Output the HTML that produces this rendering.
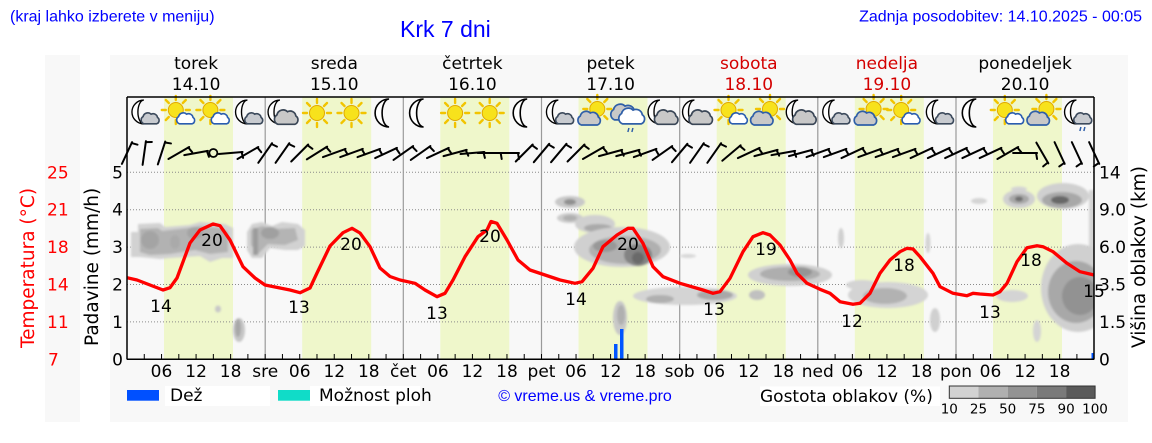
<!DOCTYPE html>
<html><head><meta charset="utf-8"><style>
html,body{margin:0;padding:0;background:#fff;overflow:hidden;width:1152px;height:443px;}
svg{display:block;}
.d{font-family:"DejaVu Sans","Liberation Sans",sans-serif;}
.l{font-family:"Liberation Sans",Arial,sans-serif;}
</style></head><body>
<svg width="1152" height="443" viewBox="0 0 1152 443" xmlns="http://www.w3.org/2000/svg">
<defs>
<clipPath id="pc"><rect x="127" y="97" width="967" height="262"/></clipPath>
<filter id="sf" x="-10%" y="-10%" width="120%" height="120%"><feGaussianBlur stdDeviation="1"/></filter>
<path id="cl" d="M-8,6 A5,5 0 0,1 -9,-3 A6,6 0 0,1 1,-6 A5.5,5.5 0 0,1 9,-2 A4.5,4.5 0 0,1 8,6 Z"/>
<path id="mo" d="M3,-14 A14,14 0 0,0 3,14 A7,14 0 0,1 3,-14 Z" fill="#fff" stroke="#000" stroke-width="1.6"/>
<g id="sun">
<g stroke="#f2c400" stroke-width="2.4" stroke-linecap="round">
<line x1="0" y1="-10" x2="0" y2="-14"/><line x1="0" y1="10" x2="0" y2="14"/>
<line x1="-10" y1="0" x2="-14" y2="0"/><line x1="10" y1="0" x2="14" y2="0"/>
<line x1="7" y1="7" x2="10" y2="10"/><line x1="-7" y1="7" x2="-10" y2="10"/>
<line x1="7" y1="-7" x2="10" y2="-10"/><line x1="-7" y1="-7" x2="-10" y2="-10"/>
</g>
<circle r="7.5" fill="#f7e21c" stroke="#e0a800" stroke-width="1"/>
</g>
<g id="mcs"><use href="#mo" transform="translate(-3,-1) scale(0.85)"/><use href="#cl" transform="translate(6,6) scale(0.8)" fill="#c8cbd0" stroke="#3c4a5c" stroke-width="2"/></g>
<g id="mcb"><use href="#mo" transform="translate(-5,-1) scale(0.85)"/><use href="#cl" transform="translate(4,5) scale(1.05)" fill="#c8c8c8" stroke="#3a4656" stroke-width="1.6"/></g>
<g id="scw"><use href="#sun" transform="translate(-3,-3) scale(1.0)"/><use href="#cl" transform="translate(7,6) scale(0.8)" fill="#fff" stroke="#2a5db0" stroke-width="2"/></g>
<g id="csn"><use href="#sun" transform="translate(4,-4) scale(1.0)"/><use href="#cl" transform="translate(-4,6) scale(1.0)" fill="#c8c8c8" stroke="#2f5fa8" stroke-width="1.7"/></g>
<g id="rc"><use href="#cl" transform="translate(-4,0) scale(1.15)" fill="#c8c8c8" stroke="#2f5fa8" stroke-width="1.5"/><use href="#cl" transform="translate(4,4) scale(1.15)" fill="#fff" stroke="#2f5fa8" stroke-width="1.5"/><g stroke="#2f5fa8" stroke-width="1.5"><line x1="1" y1="15" x2="0" y2="19"/><line x1="5" y1="15" x2="4" y2="19"/></g></g>
<g id="mcr"><use href="#mcs"/><g stroke="#2f5fa8" stroke-width="1.5"><line x1="4" y1="14" x2="3" y2="18"/><line x1="8" y1="14" x2="7" y2="18"/></g></g>
<g id="wb" stroke="#000" stroke-width="2" stroke-linecap="round"><line x1="-12" y1="0" x2="12" y2="0"/><line x1="11" y1="0" x2="12" y2="6"/></g>
</defs>

<!-- panels -->
<rect x="110" y="55" width="1018" height="367" fill="#f8f8f8"/>
<rect x="45" y="55" width="35" height="367" fill="#f8f8f8"/>

<!-- header -->
<text class="l" x="10" y="21.5" font-size="16" fill="#0000ff">(kraj lahko izberete v meniju)</text>
<text class="l" x="400" y="37" font-size="23" fill="#0000ff">Krk 7 dni</text>
<text class="l" x="1142" y="21.5" font-size="16" fill="#0000ff" text-anchor="end">Zadnja posodobitev: 14.10.2025 - 00:05</text>

<!-- day labels -->
<g class="d" font-size="17" text-anchor="middle">
<text x="196.1" y="69">torek</text><text x="196.1" y="90">14.10</text>
<text x="334.3" y="69">sreda</text><text x="334.3" y="90">15.10</text>
<text x="472.4" y="69">četrtek</text><text x="472.4" y="90">16.10</text>
<text x="610.6" y="69">petek</text><text x="610.6" y="90">17.10</text>
<text x="748.8" y="69" fill="#d40000">sobota</text><text x="748.8" y="90" fill="#d40000">18.10</text>
<text x="886.9" y="69" fill="#d40000">nedelja</text><text x="886.9" y="90" fill="#d40000">19.10</text>
<text x="1025.1" y="69">ponedeljek</text><text x="1025.1" y="90">20.10</text>
</g>

<!-- yellow day bands -->
<g fill="#eff7cb">
<rect x="164" y="97" width="69" height="262"/>
<rect x="302.2" y="97" width="69" height="262"/>
<rect x="440.3" y="97" width="69" height="262"/>
<rect x="578.5" y="97" width="69" height="262"/>
<rect x="716.7" y="97" width="69" height="262"/>
<rect x="854.8" y="97" width="69" height="262"/>
<rect x="993" y="97" width="69" height="262"/>
</g>

<!-- grid -->
<g stroke="#8a8a8a" stroke-width="1" stroke-dasharray="1 2">
<line x1="127" y1="172.3" x2="1094" y2="172.3"/>
<line x1="127" y1="209.7" x2="1094" y2="209.7"/>
<line x1="127" y1="247.1" x2="1094" y2="247.1"/>
<line x1="127" y1="284.5" x2="1094" y2="284.5"/>
<line x1="127" y1="321.9" x2="1094" y2="321.9"/>
</g>
<g stroke="#9a9a9a" stroke-width="1.2">
<line x1="265.2" y1="97" x2="265.2" y2="359"/>
<line x1="403.3" y1="97" x2="403.3" y2="359"/>
<line x1="541.5" y1="97" x2="541.5" y2="359"/>
<line x1="679.7" y1="97" x2="679.7" y2="359"/>
<line x1="817.8" y1="97" x2="817.8" y2="359"/>
<line x1="956" y1="97" x2="956" y2="359"/>
</g>

<!-- cloud density blobs -->
<g clip-path="url(#pc)">
<g filter="url(#sf)">
<path d="M131,232 L138,232 L138,224 L160,223 L165,227 L190,225 L200,222 L225,224 L233,228 L233,258 L222,258 L210,262 L200,256 L170,258 L160,259 L140,257 L131,257 Z" fill="#d2d2d2"/>
<path d="M140,229 L158,228 L162,231 L188,228 L200,226 L222,228 L228,232 L228,252 L210,254 L195,250 L170,254 L150,255 L140,252 Z" fill="#b2b2b2"/>
<ellipse cx="150" cy="240" rx="9" ry="9" fill="#a4a4a4"/>
<ellipse cx="195" cy="233" rx="8" ry="6" fill="#a4a4a4"/>
<ellipse cx="175" cy="242" rx="5" ry="7" fill="#aaaaaa"/>
<path d="M247,232 L252,224 L262,222 L272,226 L282,222 L298,224 L305,230 L305,246 L298,250 L285,250 L270,248 L262,258 L252,258 L247,250 Z" fill="#d2d2d2"/>
<path d="M251,230 L262,226 L275,229 L295,228 L298,240 L285,245 L268,244 L258,254 L251,245 Z" fill="#b4b4b4"/>
<rect x="253" y="228" width="5" height="27" fill="#9c9c9c"/>
<ellipse cx="270" cy="233" rx="9" ry="6" fill="#a0a0a0"/>
<ellipse cx="218" cy="309" rx="3" ry="3.5" fill="#c8c8c8"/>
<ellipse cx="239" cy="330" rx="6" ry="12" fill="#c6c6c6"/>
<ellipse cx="238" cy="328" rx="3" ry="9" fill="#a8a8a8"/>

<ellipse cx="570" cy="202" rx="15" ry="6" fill="#c8c8c8"/>
<ellipse cx="570" cy="202" rx="6" ry="3" fill="#909090"/>
<ellipse cx="570" cy="218" rx="13" ry="5" fill="#cccccc"/>
<ellipse cx="570" cy="218" rx="7" ry="3" fill="#b0b0b0"/>
<ellipse cx="595" cy="224" rx="20" ry="9" fill="#d0d0d0"/>
<ellipse cx="598" cy="228" rx="14" ry="4" fill="#aaaaaa"/>
<ellipse cx="622" cy="247" rx="48" ry="20" fill="#d0d0d0"/>
<ellipse cx="625" cy="250" rx="36" ry="14" fill="#b0b0b0"/>
<ellipse cx="605" cy="246" rx="12" ry="6" fill="#989898"/>
<ellipse cx="638" cy="255" rx="14" ry="11" fill="#838383"/>
<ellipse cx="638" cy="258" rx="6" ry="6" fill="#6a6a6a"/>
<ellipse cx="688" cy="256" rx="8" ry="2" fill="#d8d8d8"/>
<ellipse cx="620" cy="318" rx="7" ry="17" fill="#c8c8c8"/>
<ellipse cx="621" cy="315" rx="4" ry="10" fill="#b0b0b0"/>
<ellipse cx="685" cy="296" rx="52" ry="9" fill="#d4d4d4"/>
<ellipse cx="660" cy="299" rx="14" ry="4" fill="#b0b0b0"/>
<ellipse cx="715" cy="295" rx="18" ry="5" fill="#a8a8a8"/>
<ellipse cx="790" cy="275" rx="42" ry="11" fill="#d0d0d0"/>
<ellipse cx="790" cy="274" rx="30" ry="7" fill="#aeaeae"/>
<ellipse cx="800" cy="272" rx="12" ry="5" fill="#959595"/>
<ellipse cx="757" cy="295" rx="8" ry="5" fill="#c0c0c0"/>
<ellipse cx="862" cy="285" rx="16" ry="5" fill="#d4d4d4"/>
<ellipse cx="888" cy="295" rx="40" ry="13" fill="#d4d4d4"/>
<ellipse cx="885" cy="296" rx="22" ry="8" fill="#b2b2b2"/>
<ellipse cx="841" cy="238" rx="3" ry="10" fill="#d0d0d0"/>
<ellipse cx="928" cy="243" rx="2.5" ry="10" fill="#d4d4d4"/>
<ellipse cx="935" cy="320" rx="5" ry="12" fill="#d0d0d0"/>

<ellipse cx="979" cy="201" rx="8" ry="3" fill="#d4d4d4"/>
<ellipse cx="1019" cy="189" rx="8" ry="2.5" fill="#d4d4d4"/>
<ellipse cx="1019" cy="199" rx="16" ry="9" fill="#d0d0d0"/>
<ellipse cx="1019" cy="199" rx="10" ry="5" fill="#a8a8a8"/>
<ellipse cx="1019" cy="199" rx="4" ry="2.5" fill="#707070"/>
<ellipse cx="1063" cy="196" rx="26" ry="13" fill="#d0d0d0"/>
<ellipse cx="1062" cy="200" rx="20" ry="8" fill="#a8a8a8"/>
<ellipse cx="1060" cy="200" rx="9" ry="4" fill="#686868"/>
<ellipse cx="1012" cy="296" rx="16" ry="6" fill="#d4d4d4"/>
<ellipse cx="1037" cy="331" rx="4" ry="11" fill="#d4d4d4"/>
<rect x="1089" y="190" width="6" height="60" fill="#d4d4d4"/>
<ellipse cx="1078" cy="288" rx="37" ry="44" fill="#d0d0d0"/>
<ellipse cx="1076" cy="292" rx="28" ry="31" fill="#a8a8a8"/>
<ellipse cx="1080" cy="296" rx="18" ry="19" fill="#929292"/>
</g>
</g>

<!-- rain bars -->
<g fill="#0055ff">
<rect x="614" y="344" width="3.5" height="15"/>
<rect x="620" y="329" width="3.5" height="30"/>
<rect x="1091.5" y="353" width="2.5" height="6"/>
</g>

<!-- temperature curve -->
<polyline fill="none" stroke="#ff0000" stroke-width="3.3" stroke-linejoin="round" stroke-linecap="round" clip-path="url(#pc)" points="127,277.7 137,280 150,285 163,290 170,287.7 177,278 190,243 200,230 213,224 220,225.7 230,240 243,266.7 255,278 265,285 280,288 290,290 300,292.7 310,288 317,273 330,246 343,232.7 352,228.3 360,233 370,246.7 380,268 390,276.5 400,280 415,283.3 425,290 437,296.7 445,293.3 453,280 465,256.7 478,236.7 487,230 491,221.5 497,223.3 507,240 518,260 530,270 545,275 560,280 575,283.3 582,281.7 593,268.3 603,246.7 617,235 628,228.3 633,228.3 643,243.3 653,266.7 663,276.7 680,283.3 703,290 713,293.3 720,291.7 730,278.3 743,251.7 753,236.7 763,232.7 770,235 780,245 790,260 797,273.3 807,283.3 820,289.3 830,293.3 840,301.7 853,304.3 860,303.3 870,293.3 880,273.3 890,260 900,251.7 907,248.3 913,249 920,256.7 933,273.3 940,286.7 953,293.3 967,295.7 973,293.3 980,294 993,295 1000,291.7 1007,283.3 1017,261.7 1027,247.7 1037,245.7 1043,246.7 1053,251.7 1067,263.3 1080,271.7 1094,275"/>

<!-- temp labels -->
<g class="d" font-size="17" text-anchor="middle">
<text x="161" y="312">14</text><text x="212" y="246">20</text>
<text x="299" y="313">13</text><text x="351" y="250">20</text>
<text x="437" y="319">13</text><text x="490" y="242">20</text>
<text x="576" y="305">14</text><text x="628" y="250">20</text>
<text x="714" y="315">13</text><text x="766" y="255">19</text>
<text x="852" y="327">12</text><text x="904" y="271">18</text>
<text x="990" y="318">13</text><text x="1031" y="266">18</text>
<text x="1094" y="297">15</text>
</g>

<!-- icons -->
<g transform="translate(0,113)">
<use href="#mcs" x="144.3"/><use href="#scw" x="178.8"/><use href="#scw" x="213.4"/><use href="#mcs" x="247.9"/>
<use href="#mcb" x="282.4"/><use href="#sun" x="317"/><use href="#sun" x="351.5"/><use href="#mo" x="386.1"/>
<use href="#mo" x="420.6"/><use href="#sun" x="455.1"/><use href="#sun" x="489.7"/><use href="#mo" x="524.2"/>
<use href="#mcs" x="558.8"/><use href="#csn" x="593.3"/><use href="#rc" x="627.9"/><use href="#mcb" x="662.4"/>
<use href="#mcb" x="696.9"/><use href="#scw" x="731.5"/><use href="#csn" x="766"/><use href="#mcb" x="800.6"/>
<use href="#mcs" x="835.1"/><use href="#csn" x="869.6"/><use href="#scw" x="904.2"/><use href="#mcs" x="938.7"/>
<use href="#mo" x="973.3"/><use href="#scw" x="1007.8"/><use href="#csn" x="1042.4"/><use href="#mcr" x="1076.9"/>
</g>

<!-- wind barbs -->
<g>
<use href="#wb" transform="translate(127,153) rotate(-65)"/>
<use href="#wb" transform="translate(144.27,153) rotate(-82)"/>
<use href="#wb" transform="translate(161.54,153) rotate(-72)"/>
<use href="#wb" transform="translate(178.81,153) rotate(-30)"/>
<use href="#wb" transform="translate(196.08,153) rotate(-10)"/>
<circle cx="213.35" cy="153" r="4" fill="none" stroke="#000" stroke-width="1.8"/>
<use href="#wb" transform="translate(230.62,153) rotate(-5)"/>
<use href="#wb" transform="translate(247.89,153) rotate(-30)"/>
<use href="#wb" transform="translate(265.17,153) rotate(-55)"/>
<use href="#wb" transform="translate(282.44,153) rotate(-55)"/>
<use href="#wb" transform="translate(299.71,153) rotate(-45)"/>
<use href="#wb" transform="translate(316.98,153) rotate(-32)"/>
<use href="#wb" transform="translate(334.25,153) rotate(-20)"/>
<use href="#wb" transform="translate(351.52,153) rotate(-20)"/>
<use href="#wb" transform="translate(368.79,153) rotate(-20)"/>
<use href="#wb" transform="translate(386.06,153) rotate(-25)"/>
<use href="#wb" transform="translate(403.33,153) rotate(-35)"/>
<use href="#wb" transform="translate(420.6,153) rotate(-35)"/>
<use href="#wb" transform="translate(437.87,153) rotate(-25)"/>
<use href="#wb" transform="translate(455.14,153) rotate(-15)"/>
<use href="#wb" transform="translate(472.42,153) rotate(-5)"/>
<use href="#wb" transform="translate(489.69,153) rotate(0)"/>
<use href="#wb" transform="translate(506.96,153) rotate(0)"/>
<use href="#wb" transform="translate(524.23,153) rotate(-45)"/>
<use href="#wb" transform="translate(541.5,153) rotate(-50)"/>
<use href="#wb" transform="translate(558.77,153) rotate(-50)"/>
<use href="#wb" transform="translate(576.04,153) rotate(-45)"/>
<use href="#wb" transform="translate(593.31,153) rotate(-30)"/>
<use href="#wb" transform="translate(610.58,153) rotate(-15)"/>
<use href="#wb" transform="translate(627.85,153) rotate(-15)"/>
<use href="#wb" transform="translate(645.12,153) rotate(-20)"/>
<use href="#wb" transform="translate(662.4,153) rotate(-35)"/>
<use href="#wb" transform="translate(679.67,153) rotate(-50)"/>
<use href="#wb" transform="translate(696.94,153) rotate(-55)"/>
<use href="#wb" transform="translate(714.21,153) rotate(-55)"/>
<use href="#wb" transform="translate(731.48,153) rotate(-40)"/>
<use href="#wb" transform="translate(748.75,153) rotate(-25)"/>
<use href="#wb" transform="translate(766.02,153) rotate(-15)"/>
<use href="#wb" transform="translate(783.29,153) rotate(-10)"/>
<use href="#wb" transform="translate(800.56,153) rotate(-15)"/>
<use href="#wb" transform="translate(817.83,153) rotate(-20)"/>
<use href="#wb" transform="translate(835.1,153) rotate(-20)"/>
<use href="#wb" transform="translate(852.37,153) rotate(-25)"/>
<use href="#wb" transform="translate(869.65,153) rotate(-20)"/>
<use href="#wb" transform="translate(886.92,153) rotate(-20)"/>
<use href="#wb" transform="translate(904.19,153) rotate(-20)"/>
<use href="#wb" transform="translate(921.46,153) rotate(-25)"/>
<use href="#wb" transform="translate(938.73,153) rotate(-25)"/>
<use href="#wb" transform="translate(956,153) rotate(-25)"/>
<use href="#wb" transform="translate(973.27,153) rotate(-25)"/>
<use href="#wb" transform="translate(990.54,153) rotate(-25)"/>
<use href="#wb" transform="translate(1007.81,153) rotate(-30)"/>
<use href="#wb" transform="translate(1025.08,153) rotate(0)"/>
<use href="#wb" transform="translate(1042.35,153) rotate(60)"/>
<use href="#wb" transform="translate(1059.62,153) rotate(65)"/>
<use href="#wb" transform="translate(1076.9,153) rotate(65)"/>
<use href="#wb" transform="translate(1094.17,153) rotate(65)"/>
</g>

<!-- axes box -->
<g stroke="#000" stroke-width="1.5" fill="none">
<line x1="127" y1="97" x2="1094" y2="97"/>
<line x1="127" y1="97" x2="127" y2="359.5"/>
<line x1="1094" y1="97" x2="1094" y2="359.5"/>
<line x1="127" y1="359.3" x2="1094" y2="359.3"/>
</g>
<path stroke="#000" stroke-width="1" d="M144.27,354V359M161.54,354V359M178.81,354V359M196.08,354V359M213.35,354V359M230.62,354V359M247.89,354V359M265.17,354V359M282.44,354V359M299.71,354V359M316.98,354V359M334.25,354V359M351.52,354V359M368.79,354V359M386.06,354V359M403.33,354V359M420.6,354V359M437.87,354V359M455.14,354V359M472.42,354V359M489.69,354V359M506.96,354V359M524.23,354V359M541.5,354V359M558.77,354V359M576.04,354V359M593.31,354V359M610.58,354V359M627.85,354V359M645.12,354V359M662.4,354V359M679.67,354V359M696.94,354V359M714.21,354V359M731.48,354V359M748.75,354V359M766.02,354V359M783.29,354V359M800.56,354V359M817.83,354V359M835.1,354V359M852.37,354V359M869.65,354V359M886.92,354V359M904.19,354V359M921.46,354V359M938.73,354V359M956,354V359M973.27,354V359M990.54,354V359M1007.81,354V359M1025.08,354V359M1042.35,354V359M1059.62,354V359M1076.9,354V359"/>

<!-- x tick labels -->
<g class="d" font-size="17" text-anchor="middle">
<text x="161.5" y="377">06</text><text x="196.1" y="377">12</text><text x="230.6" y="377">18</text>
<text x="265.2" y="377">sre</text>
<text x="299.7" y="377">06</text><text x="334.3" y="377">12</text><text x="368.8" y="377">18</text>
<text x="403.3" y="377">čet</text>
<text x="437.9" y="377">06</text><text x="472.4" y="377">12</text><text x="507" y="377">18</text>
<text x="541.5" y="377">pet</text>
<text x="576" y="377">06</text><text x="610.6" y="377">12</text><text x="645.1" y="377">18</text>
<text x="679.7" y="377">sob</text>
<text x="714.2" y="377">06</text><text x="748.8" y="377">12</text><text x="783.3" y="377">18</text>
<text x="817.8" y="377">ned</text>
<text x="852.4" y="377">06</text><text x="886.9" y="377">12</text><text x="921.5" y="377">18</text>
<text x="956" y="377">pon</text>
<text x="990.5" y="377">06</text><text x="1025.1" y="377">12</text><text x="1059.6" y="377">18</text>
</g>

<!-- left y labels -->
<g class="d" font-size="17" text-anchor="end">
<text x="123" y="178.3">5</text><text x="123" y="215.7">4</text><text x="123" y="253.1">3</text>
<text x="123" y="290.5">2</text><text x="123" y="327.9">1</text><text x="123" y="365.3">0</text>
</g>
<g class="d" font-size="17" fill="#ff0000">
<text x="47" y="178.3">25</text><text x="47" y="215.7">21</text><text x="47" y="253.1">18</text>
<text x="47" y="290.5">14</text><text x="47" y="327.9">11</text><text x="48" y="365.3">7</text>
</g>
<g class="d" font-size="17">
<text x="1099" y="178.3">14</text><text x="1099" y="215.7">9.0</text><text x="1099" y="253.1">6.0</text>
<text x="1099" y="290.5">3.5</text><text x="1099" y="327.9">1.5</text><text x="1099" y="365.3">0</text>
</g>

<!-- axis titles -->
<text class="d" font-size="18.5" fill="#ff0000" text-anchor="start" transform="translate(34,348) rotate(-90)">Temperatura (°C)</text>
<text class="d" font-size="18.5" text-anchor="start" transform="translate(98,346) rotate(-90)">Padavine (mm/h)</text>
<text class="d" font-size="18.5" text-anchor="start" transform="translate(1145,348) rotate(-90)">Višina oblakov (km)</text>

<!-- legend -->
<rect x="127" y="390" width="32" height="10.7" fill="#0050ff"/>
<rect x="165" y="386" width="105" height="20" fill="#fff"/>
<text class="d" x="170" y="401" font-size="17">Dež</text>
<rect x="278" y="390" width="32" height="10.7" fill="#10dcc8"/>
<rect x="310" y="386" width="110" height="20" fill="#fff"/>
<text class="d" x="319" y="401" font-size="17">Možnost ploh</text>
<text class="l" x="585" y="401" font-size="16" fill="#0000ff" text-anchor="middle">© vreme.us &amp; vreme.pro</text>
<rect x="760" y="386.5" width="180" height="19.5" fill="#fff"/>
<text class="d" x="760" y="402" font-size="17">Gostota oblakov (%)</text>
<rect x="949.3" y="386" width="29.2" height="12.3" fill="#d2d2d2"/>
<rect x="978.5" y="386" width="29.2" height="12.3" fill="#b0b0b0"/>
<rect x="1007.7" y="386" width="29.2" height="12.3" fill="#939393"/>
<rect x="1036.9" y="386" width="29.2" height="12.3" fill="#7a7a7a"/>
<rect x="1066.1" y="386" width="29" height="12.3" fill="#5a5a5a"/>
<rect x="949.3" y="386" width="145.8" height="12.3" fill="none" stroke="#333" stroke-width="1"/>
<g class="d" font-size="13.5" text-anchor="middle">
<text x="949.3" y="413.5">10</text><text x="978.5" y="413.5">25</text><text x="1007.7" y="413.5">50</text>
<text x="1036.9" y="413.5">75</text><text x="1066.1" y="413.5">90</text><text x="1095" y="413.5">100</text>
</g>
</svg>
</body></html>
